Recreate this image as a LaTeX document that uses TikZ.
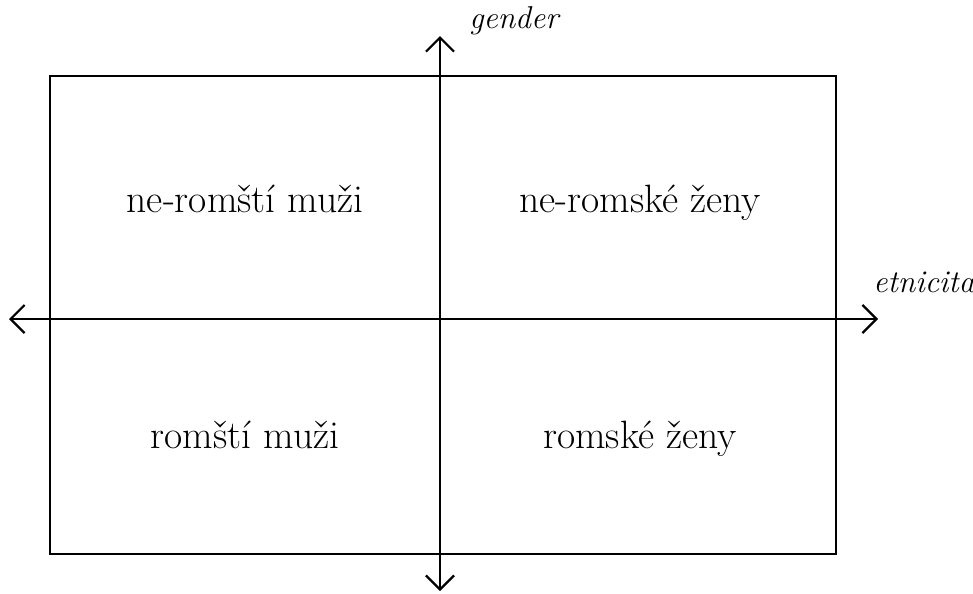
\documentclass[tikz,border=0pt]{standalone}
\usetikzlibrary{arrows.meta}
\begin{document}
\begin{tikzpicture}[x=0.02cm, y=-0.02cm,
          every node/.style = {inner sep=0pt, align=center, anchor=base, font=\fontsize{22.5}{26}\selectfont},
          axis/.style = {line width=1.3pt, {Straight Barb[length=8pt, width=16pt, line width=1.3pt]}-{Straight Barb[length=8pt, width=16pt, line width=1.3pt]}},
          axislabel/.style = {font=\fontsize{18}{21}\selectfont\itshape, anchor=base west}]
          \useasboundingbox (0,0) rectangle (973,593);
          \draw[line width=1.3pt] (50,76) rectangle (836,554);
          \coordinate (top) at (440,36);
          \coordinate (bottom) at (440,591);
          \coordinate (left) at (9,319);
          \coordinate (right) at (878,319);
          \draw[axis] (bottom) -- (top);
          \draw[axis] (left) -- (right);
          \node[axislabel] (gender) at (469,28) {gender};
          \node[axislabel] (etnicita) at (873,292) {etnicita};
          \node (nrm) at (245,212) {ne-romští muži};
          \node (nrz) at (640,212) {ne-romské ženy};
          \node (rm) at (245,448) {romští muži};
          \node (rz) at (640,448) {romské ženy};
\end{tikzpicture}
\end{document}
